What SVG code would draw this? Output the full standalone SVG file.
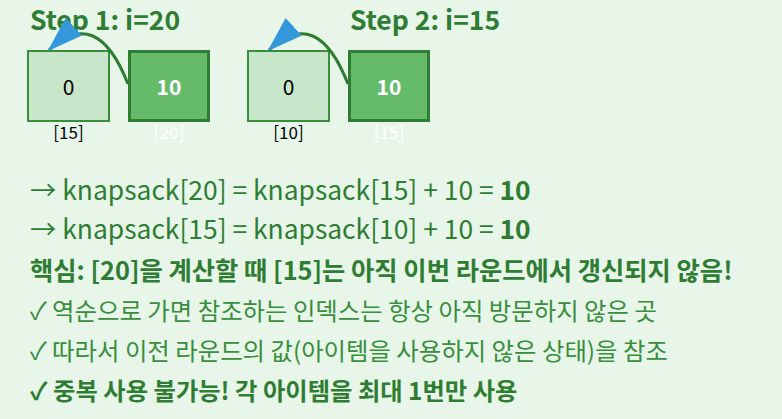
<svg xmlns="http://www.w3.org/2000/svg" width="782" height="419" viewBox="0 0 782 419">
<defs>
<style>
text{font-family:"Noto Sans CJK KR","Noto Sans",sans-serif;}
.title{font-size:26.5px;font-weight:bold;fill:#2e7d32;}
.old{fill:#c8e6c9;stroke:#388e3c;stroke-width:2;}
.new{fill:#66bb6a;stroke:#2e7d32;stroke-width:3;}
.v0{font-size:21px;fill:#000;text-anchor:middle;}
.v1{font-size:21px;font-weight:bold;fill:#fff;text-anchor:middle;}
.idx{font-size:17px;fill:#000;text-anchor:middle;}
.idxw{font-size:17px;fill:#fff;text-anchor:middle;}
.link{fill:none;stroke:#2e7d32;stroke-width:3;}
.eq{font-size:26.4px;fill:#2e7d32;}
.key{font-size:25.3px;font-weight:bold;fill:#2e7d32;}
.note{font-size:24.4px;fill:#388e3c;}
</style>
<marker id="ah" markerUnits="userSpaceOnUse" markerWidth="36" markerHeight="24" refX="34" refY="12" orient="auto">
<path d="M0,0 L36,12 L0,24 z" fill="#3498db"/>
</marker>
</defs>
<rect width="782" height="419" fill="#e8f5e9"/>
<g id="step1">
<text class="title" x="30" y="30">Step 1: i=20</text>
<g id="s1-k15"><rect class="old" x="28" y="51" width="81" height="70"/><text class="v0" x="68.5" y="95">0</text><text class="idx" x="68.5" y="139">[15]</text></g>
<g id="s1-k20"><rect class="new" x="129.5" y="51.5" width="79" height="69"/><text class="v1" x="169" y="95">10</text><text class="idxw" x="169" y="139">[20]</text></g>
</g>
<g id="step2">
<text class="title" x="350" y="30">Step 2: i=15</text>
<g id="s2-k10"><rect class="old" x="248" y="51" width="81" height="70"/><text class="v0" x="288.5" y="95">0</text><text class="idx" x="288.5" y="139">[10]</text></g>
<g id="s2-k15"><rect class="new" x="349.5" y="51.5" width="79" height="69"/><text class="v1" x="389" y="95">10</text><text class="idxw" x="389" y="139">[15]</text></g>
</g>
<g id="connectors">
<path class="link" d="M128,84 Q97,5 49,50" marker-end="url(#ah)"/>
<path class="link" d="M348,84 Q317,5 269,50" marker-end="url(#ah)"/>
</g>
<g id="explanation">
<text class="eq" x="30" y="200">→ knapsack[20] = knapsack[15] + 10 = <tspan font-weight="bold">10</tspan></text>
<text class="eq" x="30" y="239">→ knapsack[15] = knapsack[10] + 10 = <tspan font-weight="bold">10</tspan></text>
<text class="key" x="30" y="280">핵심: [20]을 계산할 때 [15]는 아직 이번 라운드에서 갱신되지 않음!</text>
<text class="note" x="30" y="320">✓ 역순으로 가면 참조하는 인덱스는 항상 아직 방문하지 않은 곳</text>
<text class="note" x="30" y="360">✓ 따라서 이전 라운드의 값(아이템을 사용하지 않은 상태)을 참조</text>
<text class="key" x="30" y="400" style="font-size:24.3px">✓ 중복 사용 불가능! 각 아이템을 최대 1번만 사용</text>
</g>
</svg>
